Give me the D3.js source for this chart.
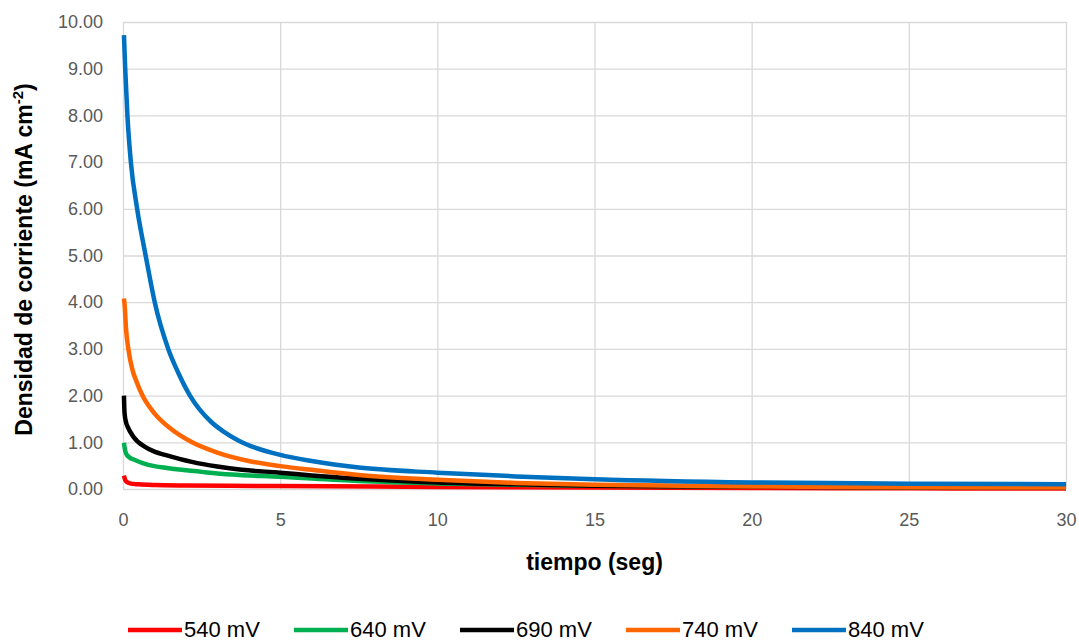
<!DOCTYPE html>
<head>
<meta charset="utf-8">
<title>Densidad de corriente</title>
<script src="https://cdn.jsdelivr.net/npm/d3@7"></script>
<style>
  body { margin: 0; background: #fff; }
  text { font-family: "Liberation Sans", Arial, sans-serif; }
</style>
</head>
<body>
<div id="container"></div>
<script>

// Datos: [tiempo (s), densidad (mA cm-2)]
const s540 = [[0.03,0.285],[0.08,0.18],[0.15,0.14],[0.22,0.12],[0.5,0.1],[1,0.085],[2,0.075],[5,0.064],[10,0.045],[15,0.032],[20,0.022],[25,0.015],[30,0.01]];
const s640 = [[0.03,0.99],[0.06,0.85],[0.1,0.76],[0.2,0.68],[0.38,0.62],[0.65,0.55],[1,0.49],[1.4,0.45],[1.87,0.41],[2.6,0.36],[3.46,0.31],[5,0.26],[7.5,0.17],[10,0.12],[12.5,0.09],[15,0.07],[20,0.05],[25,0.04],[30,0.03]];
const s690 = [[0.03,2.0],[0.05,1.62],[0.1,1.42],[0.15,1.33],[0.33,1.12],[0.7,0.9],[1.0,0.8],[1.34,0.73],[2.19,0.58],[3,0.48],[3.78,0.41],[5,0.35],[6,0.29],[7.5,0.22],[10,0.14],[12.5,0.1],[15,0.07],[20,0.05],[25,0.04],[30,0.03]];
const s740 = [[0.03,4.08],[0.05,3.95],[0.1,3.4],[0.17,3.0],[0.3,2.55],[0.43,2.3],[0.62,2.0],[1.0,1.62],[1.5,1.3],[2.2,1.0],[3,0.78],[4,0.6],[5,0.49],[6,0.41],[7.5,0.3],[10,0.2],[12.5,0.13],[15,0.09],[20,0.055],[25,0.04],[30,0.03]];
const s840 = [[0.03,9.72],[0.07,9.0],[0.14,8.0],[0.25,7.0],[0.45,6.0],[0.72,5.0],[0.86,4.5],[1.01,4.0],[1.44,3.0],[1.75,2.5],[2.13,2.0],[2.8,1.44],[3.2,1.23],[3.67,1.04],[4.2,0.886],[5,0.73],[6,0.6],[7.5,0.46],[10,0.35],[12.5,0.27],[15,0.21],[20,0.14],[25,0.115],[30,0.1]];

const seriesNames = ["540 mV", "640 mV", "690 mV", "740 mV", "840 mV"];
const seriesColors = ["#ff0000", "#00b050", "#000000", "#ff6600", "#0070c0"];
const seriesData = [s540, s640, s690, s740, s840];

const xTicks = [0, 5, 10, 15, 20, 25, 30];
const yTicks = [0, 1, 2, 3, 4, 5, 6, 7, 8, 9, 10];

// Dimensiones
const W = 1079, H = 642;
const marginLeft = 123, marginTop = 22;
const width = 1066 - marginLeft;
const height = 489 - marginTop;

const svg = d3.select("#container")
  .append("svg")
  .attr("width", W)
  .attr("height", H);

const g = svg.append("g")
  .attr("transform", `translate(${marginLeft},${marginTop})`);

// Escalas
const x = d3.scaleLinear().domain([0, 30]).range([0, width]);
const y = d3.scaleLinear().domain([0, 10]).range([height, 0]);

// Rejilla
g.append("g")
  .call(d3.axisLeft(y).tickValues(yTicks).tickSize(-width).tickFormat(""))
  .call(a => a.select(".domain").remove())
  .selectAll("line").attr("stroke", "#d9d9d9").attr("stroke-width", 1.3);

g.append("g")
  .attr("transform", `translate(0,${height})`)
  .call(d3.axisBottom(x).tickValues(xTicks).tickSize(-height).tickFormat(""))
  .call(a => a.select(".domain").remove())
  .selectAll("line").attr("stroke", "#d9d9d9").attr("stroke-width", 1.3);

// Ejes (solo etiquetas)
g.append("g")
  .call(d3.axisLeft(y).tickValues(yTicks).tickSize(0).tickPadding(20).tickFormat(d3.format(".2f")))
  .call(a => a.select(".domain").remove())
  .selectAll("text")
  .attr("font-size", 18)
  .attr("fill", "#595959");

g.append("g")
  .attr("transform", `translate(0,${height})`)
  .call(d3.axisBottom(x).tickValues(xTicks).tickSize(0).tickPadding(24))
  .call(a => a.select(".domain").remove())
  .selectAll("text")
  .attr("font-size", 18)
  .attr("fill", "#595959");

// Líneas
const line = d3.line()
  .x(d => x(d[0]))
  .y(d => y(d[1]))
  .curve(d3.curveMonotoneX);

seriesData.forEach((s, i) => {
  g.append("path")
    .datum(s)
    .attr("fill", "none")
    .attr("stroke", seriesColors[i])
    .attr("stroke-width", 4.5)
    .attr("stroke-linejoin", "round")
    .attr("d", line);
});

// Títulos de ejes
svg.append("text")
  .attr("x", marginLeft + width / 2)
  .attr("y", 570)
  .attr("text-anchor", "middle")
  .attr("font-size", 23)
  .attr("font-weight", "bold")
  .text("tiempo (seg)");

const yt = svg.append("text")
  .attr("transform", `translate(32,${marginTop + height / 2 + 4}) rotate(-90)`)
  .attr("text-anchor", "middle")
  .attr("font-size", 23)
  .attr("font-weight", "bold");
yt.append("tspan").text("Densidad de corriente (mA cm");
yt.append("tspan").attr("font-size", 15).attr("dy", -9).text("-2");
yt.append("tspan").attr("dy", 9).text(")");

// Leyenda
const legend = svg.append("g").attr("transform", "translate(128,630)");
seriesNames.forEach((name, i) => {
  const item = legend.append("g").attr("transform", `translate(${i * 166},0)`);
  item.append("line")
    .attr("x1", 0).attr("x2", 54)
    .attr("stroke", seriesColors[i])
    .attr("stroke-width", 4.5);
  item.append("text")
    .attr("x", 56)
    .attr("y", 7)
    .attr("font-size", 22)
    .attr("fill", "#000")
    .text(name);
});

</script>
</body>
